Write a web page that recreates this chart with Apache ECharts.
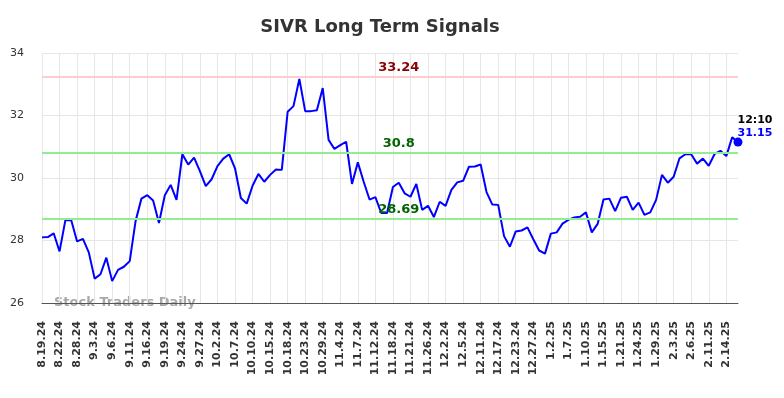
<!DOCTYPE html>
<html>
<head>
<meta charset="utf-8">
<script src="https://cdn.jsdelivr.net/npm/echarts@6/dist/echarts.min.js"></script>
<style>
  html, body { margin: 0; padding: 0; background: #fff; }
  #chart { width: 784px; height: 398px; }
</style>
</head>
<body>
<div id="chart"></div>
<script>
const dates = [
  '8.19.24', '8.20.24', '8.21.24', '8.22.24', '8.23.24', '8.26.24',
  '8.28.24', '8.29.24', '8.30.24', '9.3.24', '9.4.24', '9.5.24',
  '9.6.24', '9.9.24', '9.10.24', '9.11.24', '9.12.24', '9.13.24',
  '9.16.24', '9.17.24', '9.18.24', '9.19.24', '9.20.24', '9.23.24',
  '9.24.24', '9.25.24', '9.26.24', '9.27.24', '9.30.24', '10.1.24',
  '10.2.24', '10.3.24', '10.4.24', '10.7.24', '10.8.24', '10.9.24',
  '10.10.24', '10.11.24', '10.14.24', '10.15.24', '10.16.24', '10.17.24',
  '10.18.24', '10.21.24', '10.22.24', '10.23.24', '10.24.24', '10.25.24',
  '10.29.24', '10.30.24', '10.31.24', '11.4.24', '11.5.24', '11.6.24',
  '11.7.24', '11.8.24', '11.11.24', '11.12.24', '11.13.24', '11.15.24',
  '11.18.24', '11.19.24', '11.20.24', '11.21.24', '11.22.24', '11.25.24',
  '11.26.24', '11.27.24', '11.29.24', '12.2.24', '12.3.24', '12.4.24',
  '12.5.24', '12.6.24', '12.10.24', '12.11.24', '12.13.24', '12.16.24',
  '12.17.24', '12.18.24', '12.20.24', '12.23.24', '12.24.24', '12.26.24',
  '12.27.24', '12.30.24', '12.31.24', '1.2.25', '1.3.25', '1.6.25',
  '1.7.25', '1.8.25', '1.9.25', '1.10.25', '1.13.25', '1.14.25',
  '1.15.25', '1.16.25', '1.17.25', '1.21.25', '1.22.25', '1.23.25',
  '1.24.25', '1.27.25', '1.28.25', '1.29.25', '1.30.25', '1.31.25',
  '2.3.25', '2.4.25', '2.5.25', '2.6.25', '2.7.25', '2.10.25',
  '2.11.25', '2.12.25', '2.13.25', '2.14.25', '2.18.25', '2.19.25'
];

const prices = [
  28.10, 28.11, 28.23, 27.65, 28.65, 28.65, 27.97, 28.05, 27.62, 26.78,
  26.92, 27.45, 26.70, 27.06, 27.16, 27.34, 28.62, 29.34, 29.45, 29.28,
  28.56, 29.45, 29.78, 29.30, 30.76, 30.43, 30.65, 30.22, 29.74, 29.96,
  30.38, 30.62, 30.76, 30.31, 29.36, 29.18, 29.75, 30.13, 29.88, 30.10,
  30.27, 30.26, 32.12, 32.30, 33.17, 32.14, 32.14, 32.17, 32.88, 31.22,
  30.93, 31.05, 31.16, 29.81, 30.50, 29.88, 29.31, 29.39, 28.88, 28.88,
  29.71, 29.85, 29.51, 29.40, 29.81, 28.98, 29.11, 28.75, 29.24, 29.11,
  29.62, 29.86, 29.91, 30.36, 30.37, 30.43, 29.55, 29.15, 29.14, 28.14,
  27.80, 28.29, 28.32, 28.42, 28.04, 27.68, 27.58, 28.22, 28.26, 28.54,
  28.66, 28.74, 28.76, 28.90, 28.26, 28.53, 29.31, 29.34, 28.94, 29.37,
  29.40, 28.98, 29.21, 28.82, 28.90, 29.30, 30.10, 29.85, 30.04, 30.63,
  30.76, 30.76, 30.46, 30.62, 30.39, 30.77, 30.87, 30.70, 31.30, 31.15
];

// signal levels
const resistance = 33.24;
const supports = [30.8, 28.69];
const lastTime = '12:10';
const lastPrice = 31.15;

const FONT = 'DejaVu Sans';
const chart = echarts.init(document.getElementById('chart'));

const labelIdx = 61;
const levelLabel = (val, color) => ({
  coord: [labelIdx, val],
  symbol: 'circle',
  symbolSize: 0,
  label: {
    show: true,
    position: 'top',
    distance: 3,
    formatter: String(val),
    color: color,
    fontFamily: FONT,
    fontWeight: 'bold',
    fontSize: 13
  }
});

chart.setOption({
  animation: false,
  title: {
    text: 'SIVR Long Term Signals',
    left: 375,
    top: 13,
    textAlign: 'center',
    textStyle: { fontFamily: FONT, fontSize: 18, fontWeight: 'bold', color: '#333' }
  },
  grid: { left: 42, right: 46, top: 53, bottom: 95 },
  xAxis: {
    type: 'category',
    data: dates,
    boundaryGap: false,
    axisLine: { lineStyle: { color: '#555', width: 1 } },
    axisTick: { show: false },
    axisLabel: {
      interval: 2,
      rotate: 90,
      margin: 18,
      fontFamily: FONT,
      fontSize: 11,
      fontWeight: 'bold',
      color: '#333'
    },
    splitLine: { show: true, interval: 2, lineStyle: { color: '#e6e6e6' } }
  },
  yAxis: {
    type: 'value',
    min: 26,
    max: 34,
    interval: 2,
    axisLine: { show: false },
    axisTick: { show: false },
    axisLabel: { margin: 18, fontFamily: FONT, fontSize: 11, color: '#333' },
    splitLine: { lineStyle: { color: '#e6e6e6' } }
  },
  graphic: [{
    type: 'text',
    left: 54,
    top: 296,
    style: {
      text: 'Stock Traders Daily',
      fontFamily: FONT,
      fontSize: 13,
      fontWeight: 'bold',
      fill: 'rgba(110,110,110,0.6)'
    }
  }],
  series: [{
    type: 'line',
    data: prices,
    showSymbol: false,
    lineStyle: { color: '#0000ff', width: 2 },
    itemStyle: { color: '#0000ff' },
    markLine: {
      silent: true,
      symbol: 'none',
      label: { show: false },
      data: [
        { yAxis: resistance, lineStyle: { color: '#ffcccc', width: 2, type: 'solid' } },
        { yAxis: supports[0], lineStyle: { color: '#90ee90', width: 2, type: 'solid' } },
        { yAxis: supports[1], lineStyle: { color: '#90ee90', width: 2, type: 'solid' } }
      ]
    },
    markPoint: {
      silent: true,
      data: [
        levelLabel(resistance, '#8b0000'),
        levelLabel(supports[0], '#006400'),
        levelLabel(supports[1], '#006400'),
        {
          coord: [prices.length - 1, lastPrice],
          symbol: 'circle',
          symbolSize: 9,
          itemStyle: { color: '#0000ff' },
          label: {
            show: true,
            position: [4, -24],
            align: 'left',
            verticalAlign: 'top',
            formatter: '{t|' + lastTime + '}\n{p|' + lastPrice.toFixed(2) + '}',
            rich: {
              t: { fontFamily: FONT, fontWeight: 'bold', fontSize: 11, color: '#000', lineHeight: 13 },
              p: { fontFamily: FONT, fontWeight: 'bold', fontSize: 11, color: '#0000ff', lineHeight: 13 }
            }
          }
        }
      ]
    }
  }]
});
</script>
</body>
</html>
